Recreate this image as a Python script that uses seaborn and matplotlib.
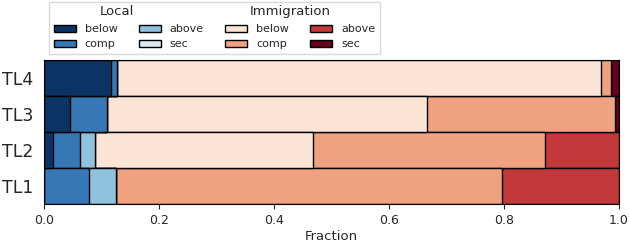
import numpy as np
import pandas as pd
import matplotlib
matplotlib.use("Agg")
import matplotlib.pyplot as plt
import seaborn as sns
from matplotlib.patches import Patch

categories = ["TL4", "TL3", "TL2", "TL1"]
series = ["below", "comp", "above", "sec"]

# fractions per tree line
local_below = [0.116, 0.045, 0.016, 0.000]
local_comp = [0.011, 0.064, 0.047, 0.078]
local_above = [0.000, 0.000, 0.025, 0.048]
local_sec = [0.000, 0.000, 0.000, 0.000]
imm_below = [0.842, 0.558, 0.380, 0.000]
imm_comp = [0.018, 0.327, 0.403, 0.671]
imm_above = [0.000, 0.000, 0.129, 0.203]
imm_sec = [0.013, 0.006, 0.000, 0.000]

local_colors = ["#0b3464", "#3578b5", "#8ec2de", "#dbe9f2"]
imm_colors = ["#fbe3d5", "#f0a17f", "#c3393a", "#67001f"]

parts = [local_below, local_comp, local_above, local_sec,
         imm_below, imm_comp, imm_above, imm_sec]
colors = local_colors + imm_colors

df = pd.DataFrame(np.array(parts).T, index=categories,
                  columns=[f"L_{s}" for s in series] + [f"I_{s}" for s in series])
cum = df.cumsum(axis=1)

sns.set_style("ticks")
fig, ax = plt.subplots(figsize=(6.29, 2.43), dpi=100)
fig.subplots_adjust(left=0.070, right=0.984, bottom=0.160, top=0.753)

# stacked bars: draw cumulative totals from the outermost segment inwards
for col, c in reversed(list(zip(cum.columns, colors))):
    sns.barplot(x=cum[col].values, y=categories, order=categories, color=c,
                saturation=1, width=1.0, edgecolor="black", linewidth=1.0,
                orient="h", ax=ax)

ax.set_xlim(0, 1)
ax.set_ylim(3.5, -0.5)
ax.set_xlabel("Fraction", fontsize=9.5, labelpad=2)
ax.set_ylabel("")
ax.tick_params(axis="y", length=0, labelsize=12.5, pad=8)
ax.tick_params(axis="x", labelsize=9)
for s in ax.spines.values():
    s.set_visible(True)
    s.set_color("black")

handles = [Patch(facecolor=c, edgecolor="black", linewidth=1.0) for c in colors]
labels = series + series
leg = fig.legend(handles, labels, ncol=4, loc="upper left",
                 bbox_to_anchor=(0.078, 0.992), borderaxespad=0, fontsize=8,
                 frameon=True, title=" ", title_fontsize=9.5,
                 handlelength=2.0, handleheight=0.7, handletextpad=0.8,
                 columnspacing=1.9, labelspacing=0.45, borderpad=0.4,
                 fancybox=False, edgecolor="#d0d0d0")
fig.text(0.186, 0.951, "Local", ha="center", va="center", fontsize=9.5, zorder=10)
fig.text(0.461, 0.951, "Immigration", ha="center", va="center", fontsize=9.5, zorder=10)

fig.savefig("out.png", dpi=100)
